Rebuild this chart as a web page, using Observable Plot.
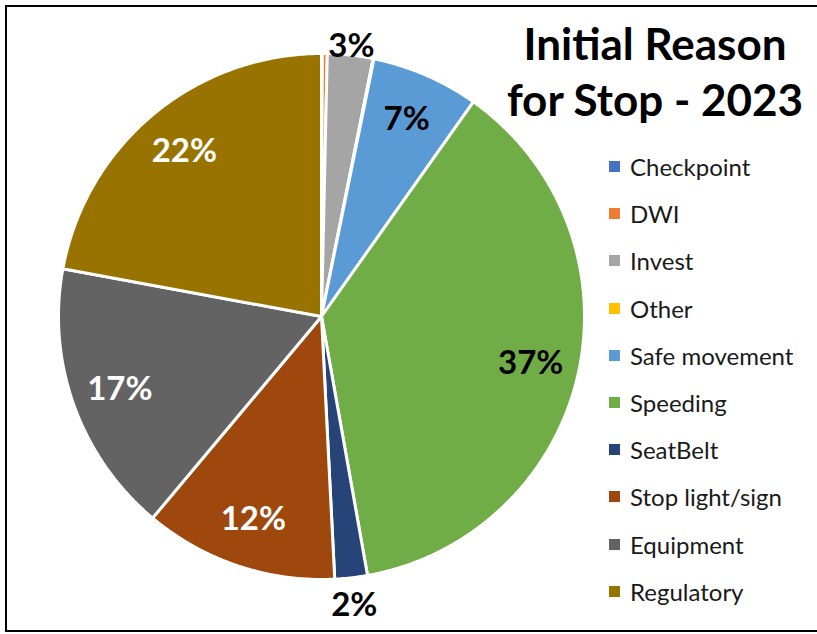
<!DOCTYPE html>
<html><head><meta charset="utf-8">
<script src="https://cdn.jsdelivr.net/npm/d3@7"></script>
<script src="https://cdn.jsdelivr.net/npm/@observablehq/plot@0.6"></script>
<style>
body{margin:0;background:#fff;font-family:Lato,"Open Sans",sans-serif;}
#wrap{position:relative;width:817px;height:634px;overflow:hidden;background:#fff;}
#frame{position:absolute;left:5px;top:5px;width:840px;height:623px;border:2px solid #000;border-right:none;pointer-events:none;}
#chart{position:absolute;left:0;top:0;}
#title{position:absolute;left:475px;top:15px;width:360px;text-align:center;font-weight:bold;font-size:44px;line-height:56px;color:#000;}
#legend{position:absolute;left:609px;top:143px;}
.row{height:47.2px;display:flex;align-items:center;font-size:24px;color:#1a1a1a;white-space:nowrap;}
.sw{width:11px;height:11px;margin-right:10px;flex:none;}
</style>
</head><body>
<div id="wrap">
  <div id="chart"></div>
  <div id="title">Initial Reason<br>for Stop - 2023</div>
  <div id="legend"></div>
  <div id="frame"></div>
</div>
<script>
const categories = ["Checkpoint","DWI","Invest","Other","Safe movement","Speeding","SeatBelt","Stop light/sign","Equipment","Regulatory"];
const shares = [0.05, 0.3, 2.8, 0.05, 6.6, 37.4, 2.0, 11.9, 16.8, 22.1];
const sliceLabels = ["", "", "3%", "", "7%", "37%", "2%", "12%", "17%", "22%"];
const colors = ["#4472C4","#ED7D31","#A5A5A5","#FFC000","#5B9BD5","#70AD47","#264478","#9E480E","#636363","#997300"];
const whiteLabelCats = ["Stop light/sign","Equipment","Regulatory"];

const total = d3.sum(shares);
let cum = 0;
const slices = categories.map((c, i) => {
  const a0 = cum / total * 2 * Math.PI;
  cum += shares[i];
  const a1 = cum / total * 2 * Math.PI;
  return {cat: c, share: shares[i], label: sliceLabels[i], a0, a1};
});

// polygon points for each slice (center -> arc -> center)
const pts = [];
slices.forEach(s => {
  pts.push({cat: s.cat, x: 0, y: 0});
  const n = Math.max(2, Math.ceil((s.a1 - s.a0) / (Math.PI / 360)));
  for (let k = 0; k <= n; k++) {
    const a = s.a0 + (s.a1 - s.a0) * k / n;
    pts.push({cat: s.cat, x: Math.sin(a), y: Math.cos(a)});
  }
  pts.push({cat: s.cat, x: 0, y: 0});
});

const labelPts = slices.filter(s => s.label).map(s => {
  const m = (s.a0 + s.a1) / 2;
  const outside = s.share < 5;
  const r = outside ? (Math.cos(m) > 0 ? 1.035 : 1.105) : 0.815;
  return {label: s.label, x: r * Math.sin(m), y: r * Math.cos(m), white: whiteLabelCats.includes(s.cat)};
});

const chart = Plot.plot({
  width: 817, height: 634,
  marginLeft: 58, marginRight: 233, marginTop: 53, marginBottom: 55,
  x: {domain: [-1, 1], axis: null},
  y: {domain: [-1, 1], axis: null},
  color: {domain: categories, range: colors},
  style: {fontFamily: "Lato, 'Open Sans', sans-serif", background: "transparent"},
  marks: [
    Plot.line(pts, {x: "x", y: "y", z: "cat", fill: "cat", stroke: "white", strokeWidth: 3, strokeLinejoin: "round", curve: "linear"}),
    Plot.text(labelPts.filter(d => !d.white), {x: "x", y: "y", text: "label", fill: "black", fontSize: 33, fontWeight: "bold"}),
    Plot.text(labelPts.filter(d => d.white), {x: "x", y: "y", text: "label", fill: "white", fontSize: 33, fontWeight: "bold"})
  ]
});
document.getElementById("chart").appendChild(chart);

const lg = document.getElementById("legend");
categories.forEach((c, i) => {
  const row = document.createElement("div");
  row.className = "row";
  const sw = document.createElement("span");
  sw.className = "sw";
  sw.style.background = colors[i];
  const t = document.createElement("span");
  t.textContent = c;
  row.appendChild(sw); row.appendChild(t);
  lg.appendChild(row);
});
</script>
</body></html>
